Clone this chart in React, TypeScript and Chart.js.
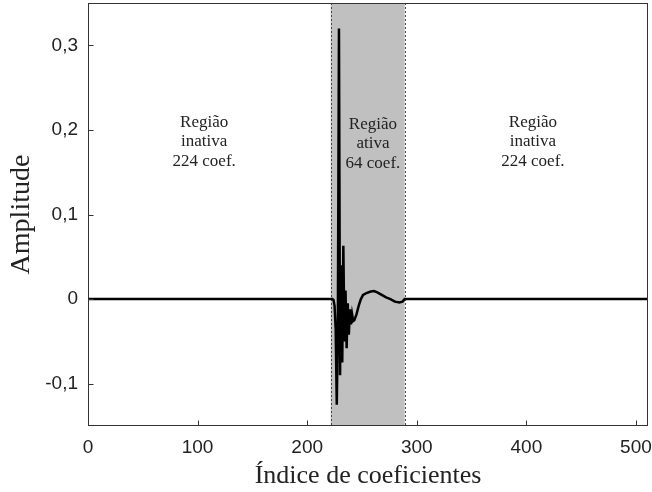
import { useEffect, useRef } from "react";
import { Chart, registerables } from "chart.js";

Chart.register(...registerables);

// Coefficient indices and amplitudes of the impulse response (straight line between points)
const coefIndex = [
  0, 223, 224, 225, 226, 227, 228, 229, 230, 231, 232, 233, 234, 235, 236, 237,
  238, 239, 240, 241, 242, 243, 245, 247, 249, 251, 254, 258, 261, 264, 268,
  272, 276, 280, 284, 287, 289, 511,
];
const amplitude = [
  0, 0, -0.001, -0.008, -0.035, -0.125, -0.03, 0.32, -0.09, 0.04, -0.075,
  0.063, -0.05, 0.01, -0.058, -0.005, -0.042, -0.012, -0.03, -0.018, -0.026,
  -0.025, -0.018, -0.008, 0, 0.005, 0.007, 0.009, 0.0095, 0.008, 0.005, 0.002,
  0, -0.003, -0.004, -0.003, 0, 0,
];

const xTickValues = [0, 100, 200, 300, 400, 500];
const yTickValues = [-0.1, 0, 0.1, 0.2, 0.3];

// Shaded span of the active region (in coefficient units)
const activeRegion = [221.5, 289];

// Region captions: anchor x (coefficient), first baseline y (amplitude), lines
const captionX = [106, 260, 406];
const captionY = [0.204, 0.2015, 0.204];
const captionLines = [
  ["Região", "inativa", "224 coef."],
  ["Região", "ativa", "64 coef."],
  ["Região", "inativa", "224 coef."],
];

const SERIF = '"Liberation Serif", "Times New Roman", serif';
const SANS = '"Liberation Sans", Arial, sans-serif';
const INK = "#222";

const regionPlugin = {
  id: "regionPlugin",
  beforeDatasetsDraw(chart: any) {
    const { ctx, chartArea: a, scales } = chart;
    const x0 = scales.x.getPixelForValue(activeRegion[0]);
    const x1 = scales.x.getPixelForValue(activeRegion[1]);
    ctx.save();
    ctx.fillStyle = "#c0c0c0";
    ctx.fillRect(x0, a.top, x1 - x0, a.bottom - a.top);
    ctx.strokeStyle = "#444";
    ctx.lineWidth = 1;
    ctx.setLineDash([2, 2]);
    for (const px of [x0, x1]) {
      const p = Math.round(px) + 0.5;
      ctx.beginPath();
      ctx.moveTo(p, a.top);
      ctx.lineTo(p, a.bottom);
      ctx.stroke();
    }
    ctx.restore();
  },
  afterDatasetsDraw(chart: any) {
    const { ctx, chartArea: a, scales } = chart;
    ctx.save();
    // captions
    ctx.fillStyle = INK;
    ctx.font = `17px ${SERIF}`;
    ctx.textAlign = "center";
    ctx.textBaseline = "alphabetic";
    captionLines.forEach((lines, i) => {
      const cx = scales.x.getPixelForValue(captionX[i]);
      const cy = scales.y.getPixelForValue(captionY[i]);
      lines.forEach((t, j) => ctx.fillText(t, cx, cy + j * 19.5));
    });
    // frame
    ctx.strokeStyle = "#333";
    ctx.lineWidth = 1;
    ctx.setLineDash([]);
    const l = Math.round(a.left) + 0.5;
    const r = Math.round(a.right) - 0.5;
    const t = Math.round(a.top) + 0.5;
    const b = Math.round(a.bottom) - 0.5;
    ctx.strokeRect(l, t, r - l, b - t);
    // inward tick marks
    ctx.beginPath();
    for (const v of yTickValues) {
      const py = Math.round(scales.y.getPixelForValue(v)) + 0.5;
      ctx.moveTo(l, py);
      ctx.lineTo(l + 5, py);
    }
    for (const v of xTickValues) {
      const px = Math.round(scales.x.getPixelForValue(v)) + 0.5;
      ctx.moveTo(px, b);
      ctx.lineTo(px, b - 5);
    }
    ctx.stroke();
    ctx.restore();
  },
};

export default function App() {
  const canvasRef = useRef<HTMLCanvasElement | null>(null);

  useEffect(() => {
    if (!canvasRef.current) return;
    const chart = new Chart(canvasRef.current, {
      type: "line",
      data: {
        datasets: [
          {
            data: coefIndex.map((x, i) => ({ x, y: amplitude[i] })),
            borderColor: "#000",
            borderWidth: 2.5,
            pointRadius: 0,
            tension: 0,
            fill: false,
          },
        ],
      },
      options: {
        animation: false,
        responsive: false,
        layout: { padding: { top: 3, right: 4, left: 0, bottom: 0 } },
        plugins: {
          legend: { display: false },
          tooltip: { enabled: false },
        },
        scales: {
          x: {
            type: "linear",
            min: 0,
            max: 511,
            grid: { display: false },
            border: { display: false },
            afterBuildTicks: (s: any) => {
              s.ticks = xTickValues.map((value) => ({ value }));
            },
            afterFit: (s: any) => {
              s.height = 66;
              s.paddingLeft = 0;
              s.paddingRight = 0;
            },
            ticks: {
              font: { family: SANS, size: 19 },
              color: INK,
              padding: 2,
              maxRotation: 0,
              autoSkip: false,
            },
            title: {
              display: true,
              text: "Índice de coeficientes",
              font: { family: SERIF, size: 26 },
              color: INK,
              padding: { top: 0, bottom: 0 },
            },
          },
          y: {
            type: "linear",
            min: -0.15,
            max: 0.35,
            grid: { display: false },
            border: { display: false },
            afterBuildTicks: (s: any) => {
              s.ticks = yTickValues.map((value) => ({ value }));
            },
            afterFit: (s: any) => {
              s.width = 88;
              s.paddingTop = 0;
              s.paddingBottom = 0;
            },
            ticks: {
              font: { family: SANS, size: 19 },
              color: INK,
              padding: 2,
              autoSkip: false,
              callback: (v: any) => String(v).replace(".", ","),
            },
            title: {
              display: true,
              text: "Amplitude",
              font: { family: SERIF, size: 28 },
              color: INK,
              padding: { top: 5, bottom: 0 },
            },
          },
        },
      },
      plugins: [regionPlugin],
    });
    return () => chart.destroy();
  }, []);

  return (
    <div style={{ position: "absolute", left: 0, top: 0, width: 652, height: 492, background: "#fff" }}>
      <canvas ref={canvasRef} width={652} height={492} />
    </div>
  );
}
